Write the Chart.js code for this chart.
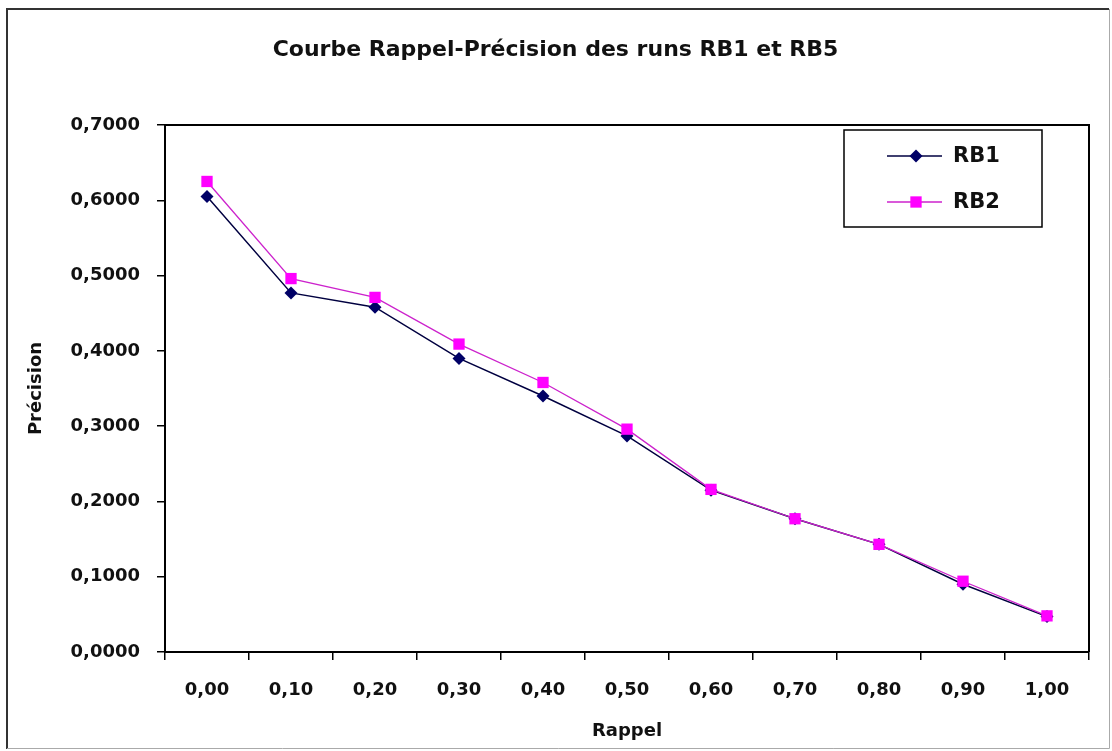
<!DOCTYPE html>
<html>
<head>
<meta charset="utf-8">
<script src="https://cdn.jsdelivr.net/npm/chart.js@4/dist/chart.umd.min.js"></script>
<style>
  body { margin: 0; background: #fff; }
  #wrap { width: 1112px; height: 751px; }
</style>
</head>
<body>
<div id="wrap"><canvas id="rpChart" width="1112" height="751"></canvas></div>
<script>
// Données
const rappel = ['0,00', '0,10', '0,20', '0,30', '0,40', '0,50', '0,60', '0,70', '0,80', '0,90', '1,00'];
const precisionRB1 = [0.605, 0.477, 0.458, 0.390, 0.340, 0.287, 0.215, 0.177, 0.143, 0.090, 0.047];
const precisionRB2 = [0.625, 0.496, 0.471, 0.409, 0.358, 0.296, 0.216, 0.177, 0.143, 0.094, 0.048];
const seriesNames = ['RB1', 'RB2'];
const yTicks = [0, 0.1, 0.2, 0.3, 0.4, 0.5, 0.6, 0.7];

const FONT = "'DejaVu Sans', Arial, sans-serif";

// Cadre extérieur, bordure de la zone de tracé et légende
const cadrePlugin = {
    id: 'cadre',
    beforeDraw(chart) {
        const ctx = chart.ctx;
        ctx.save();
        ctx.fillStyle = '#fff';
        ctx.fillRect(0, 0, chart.width, chart.height);
        ctx.restore();
    },
    afterDraw(chart) {
        const ctx = chart.ctx;
        const a = chart.chartArea;
        ctx.save();
        // bordure haut / droite de la zone de tracé
        ctx.strokeStyle = '#000';
        ctx.lineWidth = 2;
        ctx.beginPath();
        ctx.moveTo(a.left, a.top);
        ctx.lineTo(a.right, a.top);
        ctx.lineTo(a.right, a.bottom);
        ctx.stroke();

        // cadre extérieur
        ctx.strokeStyle = '#333';
        ctx.lineWidth = 2;
        ctx.beginPath();
        ctx.moveTo(7, 749);
        ctx.lineTo(7, 9);
        ctx.lineTo(1109, 9);
        ctx.stroke();
        ctx.strokeStyle = '#aaa';
        ctx.lineWidth = 1;
        ctx.beginPath();
        ctx.moveTo(1109.5, 9);
        ctx.lineTo(1109.5, 748.5);
        ctx.lineTo(7, 748.5);
        ctx.stroke();

        // légende
        ctx.fillStyle = '#fff';
        ctx.fillRect(844, 130, 198, 97);
        ctx.strokeStyle = '#000';
        ctx.lineWidth = 1.5;
        ctx.strokeRect(844, 130, 198, 97);
        chart.data.datasets.forEach(function(ds, i) {
            const y = 156 + i * 46;
            ctx.strokeStyle = ds.borderColor;
            ctx.lineWidth = ds.borderWidth;
            ctx.beginPath();
            ctx.moveTo(887, y);
            ctx.lineTo(942, y);
            ctx.stroke();
            ctx.fillStyle = ds.pointBackgroundColor;
            ctx.beginPath();
            if (ds.pointStyle === 'rectRot') {
                const r = ds.pointRadius;
                ctx.moveTo(916, y - r);
                ctx.lineTo(916 + r, y);
                ctx.lineTo(916, y + r);
                ctx.lineTo(916 - r, y);
                ctx.closePath();
            } else {
                const s = ds.pointRadius * Math.SQRT1_2;
                ctx.rect(916 - s, y - s, 2 * s, 2 * s);
            }
            ctx.fill();
            ctx.fillStyle = '#111';
            ctx.font = 'bold 21px ' + FONT;
            ctx.textBaseline = 'middle';
            ctx.textAlign = 'left';
            ctx.fillText(ds.label, 953, y + 1);
        });
        ctx.restore();
    }
};

const ctx = document.getElementById('rpChart').getContext('2d');
new Chart(ctx, {
    type: 'line',
    data: {
        labels: rappel,
        datasets: [{
            label: seriesNames[0],
            data: precisionRB1,
            borderColor: '#000040',
            backgroundColor: '#000066',
            borderWidth: 1.5,
            pointStyle: 'rectRot',
            pointRadius: 6.5,
            pointBackgroundColor: '#000066',
            pointBorderColor: '#000066',
            pointBorderWidth: 0,
            tension: 0,
            order: 1
        }, {
            label: seriesNames[1],
            data: precisionRB2,
            borderColor: '#cc22cc',
            backgroundColor: '#ff00ff',
            borderWidth: 1.3,
            pointStyle: 'rect',
            pointRadius: 8,
            pointBackgroundColor: '#ff00ff',
            pointBorderColor: '#ff00ff',
            pointBorderWidth: 0,
            tension: 0,
            order: 0
        }]
    },
    options: {
        responsive: false,
        animation: false,
        devicePixelRatio: 1,
        layout: { padding: { left: 22, right: 23, top: 0, bottom: 0 } },
        plugins: {
            legend: { display: false },
            tooltip: { enabled: false },
            title: {
                display: true,
                text: 'Courbe Rappel-Précision des runs RB1 et RB5',
                color: '#111',
                font: { family: FONT, size: 22, weight: 'bold' },
                padding: { top: 37, bottom: 61.6 }
            }
        },
        scales: {
            x: {
                type: 'category',
                offset: true,
                border: { display: true, color: '#000', width: 2 },
                grid: {
                    display: true,
                    offset: true,
                    drawOnChartArea: false,
                    drawTicks: true,
                    tickLength: 8,
                    color: '#000',
                    lineWidth: 1.5
                },
                ticks: {
                    color: '#111',
                    font: { family: FONT, size: 18, weight: 'bold' },
                    padding: 20,
                    maxRotation: 0,
                    autoSkip: false
                },
                title: {
                    display: true,
                    text: 'Rappel',
                    color: '#111',
                    font: { family: FONT, size: 18, weight: 'bold' },
                    padding: { top: 0, bottom: 9 }
                },
                afterFit(scale) { scale.height = 99; }
            },
            y: {
                min: 0,
                max: 0.7,
                border: { display: true, color: '#000', width: 2 },
                grid: {
                    display: true,
                    drawOnChartArea: false,
                    drawTicks: true,
                    tickLength: 8,
                    color: '#000',
                    lineWidth: 1.5
                },
                afterBuildTicks(scale) {
                    scale.ticks = yTicks.map(function(v) { return { value: v }; });
                },
                ticks: {
                    color: '#111',
                    font: { family: FONT, size: 18, weight: 'bold' },
                    padding: 17,
                    callback: function(v) { return v.toFixed(4).replace('.', ','); }
                },
                title: {
                    display: true,
                    text: 'Précision',
                    color: '#111',
                    font: { family: FONT, size: 18, weight: 'bold' },
                    padding: { top: 4, bottom: 0 }
                },
                afterFit(scale) { scale.width = 143; }
            }
        }
    },
    plugins: [cadrePlugin]
});
</script>
</body>
</html>
